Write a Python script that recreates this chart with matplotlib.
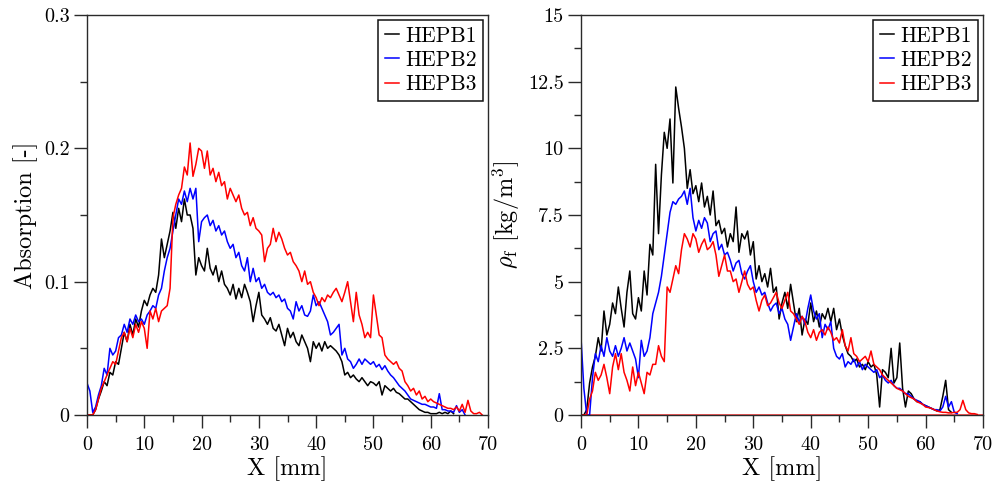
import numpy as np
import matplotlib
matplotlib.use("Agg")
import matplotlib.pyplot as plt
from matplotlib.ticker import FixedLocator, MultipleLocator

# ---- data: profiles sampled every 0.5 mm starting at X = 0 ----
step_mm = 0.5
series_names = ["HEPB1", "HEPB2", "HEPB3"]
series_colors = ["#000000", "#0000ff", "#ff0000"]

abs_hepb1 = [
    0.000, 0.000, 0.000, 0.004, 0.012, 0.018, 0.025, 0.022, 0.032, 0.030,
    0.040, 0.038, 0.050, 0.062, 0.055, 0.068, 0.060, 0.072, 0.066, 0.078,
    0.086, 0.082, 0.090, 0.095, 0.092, 0.105, 0.132, 0.118, 0.128, 0.138,
    0.152, 0.140, 0.155, 0.145, 0.162, 0.150, 0.150, 0.140, 0.105, 0.118,
    0.112, 0.108, 0.125, 0.110, 0.105, 0.112, 0.100, 0.108, 0.098, 0.095,
    0.090, 0.098, 0.087, 0.095, 0.088, 0.098, 0.092, 0.085, 0.070, 0.082,
    0.092, 0.075, 0.072, 0.068, 0.073, 0.065, 0.063, 0.068, 0.060, 0.052,
    0.065, 0.058, 0.062, 0.055, 0.052, 0.060, 0.055, 0.050, 0.040, 0.055,
    0.050, 0.054, 0.048, 0.055, 0.050, 0.052, 0.050, 0.048, 0.045, 0.040,
    0.030, 0.032, 0.028, 0.030, 0.027, 0.025, 0.028, 0.025, 0.022, 0.025,
    0.024, 0.022, 0.025, 0.015, 0.022, 0.020, 0.018, 0.020, 0.017, 0.016,
    0.014, 0.012, 0.012, 0.010, 0.008, 0.006, 0.004, 0.003, 0.002, 0.002,
    0.001, 0.001, 0.001, 0.002, 0.001, 0.002, 0.001, 0.003, 0.001,
]
abs_hepb2 = [
    0.024, 0.018, 0.002, 0.006, 0.015, 0.022, 0.035, 0.030, 0.050, 0.045,
    0.048, 0.058, 0.060, 0.068, 0.062, 0.072, 0.068, 0.075, 0.070, 0.072,
    0.068, 0.075, 0.078, 0.082, 0.080, 0.090, 0.095, 0.108, 0.118, 0.125,
    0.138, 0.150, 0.162, 0.158, 0.168, 0.160, 0.170, 0.162, 0.170, 0.130,
    0.145, 0.148, 0.150, 0.142, 0.146, 0.138, 0.142, 0.135, 0.138, 0.130,
    0.125, 0.128, 0.118, 0.122, 0.112, 0.108, 0.118, 0.100, 0.110, 0.100,
    0.103, 0.095, 0.098, 0.092, 0.090, 0.092, 0.088, 0.090, 0.085, 0.087,
    0.080, 0.078, 0.072, 0.085, 0.078, 0.082, 0.075, 0.074, 0.078, 0.090,
    0.082, 0.085, 0.080, 0.075, 0.070, 0.060, 0.062, 0.065, 0.068, 0.045,
    0.050, 0.042, 0.040, 0.035, 0.038, 0.042, 0.038, 0.042, 0.040, 0.038,
    0.040, 0.036, 0.038, 0.034, 0.037, 0.033, 0.030, 0.028, 0.025, 0.022,
    0.020, 0.018, 0.015, 0.012, 0.011, 0.010, 0.009, 0.008, 0.008, 0.007,
    0.006, 0.006, 0.005, 0.016, 0.004, 0.004, 0.003, 0.003, 0.002, 0.007,
    0.002, 0.004, 0.000,
]
abs_hepb3 = [
    0.000, 0.000, 0.000, 0.004, 0.012, 0.020, 0.025, 0.030, 0.035, 0.040,
    0.038, 0.048, 0.058, 0.062, 0.055, 0.065, 0.058, 0.068, 0.062, 0.070,
    0.065, 0.050, 0.078, 0.072, 0.080, 0.070, 0.078, 0.080, 0.082, 0.095,
    0.148, 0.158, 0.165, 0.170, 0.186, 0.180, 0.204, 0.179, 0.188, 0.200,
    0.198, 0.185, 0.198, 0.180, 0.185, 0.175, 0.182, 0.172, 0.175, 0.162,
    0.170, 0.165, 0.160, 0.165, 0.155, 0.150, 0.152, 0.142, 0.148, 0.140,
    0.138, 0.135, 0.115, 0.125, 0.128, 0.140, 0.130, 0.137, 0.132, 0.125,
    0.120, 0.122, 0.115, 0.112, 0.108, 0.100, 0.108, 0.098, 0.100, 0.092,
    0.088, 0.082, 0.088, 0.085, 0.090, 0.088, 0.092, 0.095, 0.090, 0.085,
    0.092, 0.100, 0.085, 0.070, 0.092, 0.075, 0.068, 0.058, 0.062, 0.058,
    0.090, 0.075, 0.060, 0.058, 0.045, 0.042, 0.040, 0.038, 0.040, 0.035,
    0.033, 0.025, 0.022, 0.018, 0.020, 0.015, 0.018, 0.012, 0.014, 0.010,
    0.012, 0.010, 0.009, 0.008, 0.007, 0.006, 0.005, 0.005, 0.004, 0.006,
    0.003, 0.008, 0.002, 0.011, 0.003, 0.001, 0.001, 0.002, 0.000,
]

rho_hepb1 = [
    0.0, 0.0, 0.2, 1.2, 1.8, 2.2, 2.9, 2.4, 3.9, 3.0,
    3.4, 4.2, 3.8, 4.8, 4.0, 3.3, 4.6, 5.4, 3.8, 3.6,
    4.4, 3.9, 5.4, 4.5, 6.4, 6.0, 9.4, 6.8, 9.0, 10.6,
    10.0, 11.1, 8.7, 12.3, 11.5, 10.8, 10.0, 8.5, 9.2, 8.3,
    8.6, 8.0, 8.7, 7.8, 8.2, 7.5, 8.4, 7.1, 7.3, 6.8,
    7.0, 6.3, 6.8, 6.5, 7.8, 6.1, 6.8, 6.6, 6.9, 6.0,
    6.5, 5.1, 5.6, 5.0, 5.3, 4.8, 5.5, 4.6, 4.8, 3.6,
    4.2, 4.6, 4.0, 4.9, 4.2, 3.5, 4.0, 3.0, 3.6, 3.4,
    4.2, 3.5, 3.9, 3.3, 3.8, 3.6, 4.0, 3.5, 4.0, 3.2,
    3.6, 3.0, 2.6, 2.3, 2.2, 2.0, 2.1, 1.8, 1.9, 1.7,
    2.0, 1.8, 1.9, 1.5, 0.3, 1.7, 1.6, 1.4, 2.5, 1.2,
    1.4, 2.7, 1.0, 0.3, 0.9, 0.8, 0.6, 0.5, 0.5, 0.4,
    0.35, 0.3, 0.25, 0.2, 0.15, 0.2, 0.7, 1.3, 0.2, 0.1,
]
rho_hepb2 = [
    2.9, 1.0, 0.0, 0.0, 1.4, 2.3, 2.0, 2.6, 2.2, 2.9,
    2.4, 2.2, 2.6, 2.2, 2.5, 2.9, 2.4, 2.7, 2.4, 2.1,
    1.4, 2.8, 2.2, 2.4, 2.9, 3.8, 4.2, 4.6, 5.2, 6.0,
    6.8, 7.6, 8.0, 7.9, 8.1, 8.2, 8.4, 7.9, 8.5, 7.4,
    6.9, 7.3, 7.0, 7.4, 7.2, 6.5, 6.8, 6.9, 6.2, 6.4,
    6.0, 6.1, 5.8, 5.4, 5.7, 5.8, 5.3, 5.1, 5.4, 5.6,
    5.0, 4.6, 4.8, 4.5, 4.6, 4.2, 3.9, 4.1, 4.2, 3.8,
    4.0, 3.6, 3.4, 2.8, 3.3, 3.8, 3.5, 3.7, 3.4, 4.0,
    4.5, 3.9, 3.6, 3.8, 2.9, 3.4, 3.2, 3.5, 2.5, 2.2,
    2.1, 2.3, 1.8, 2.0, 1.9, 2.1, 1.8, 2.0, 1.7, 1.9,
    1.8, 1.7, 1.6, 1.7, 1.4, 1.5, 1.3, 1.2, 1.3, 1.1,
    1.0, 1.0, 0.9, 0.8, 0.8, 0.7, 0.6, 0.55, 0.5, 0.4,
    0.35, 0.3, 0.25, 0.2, 0.2, 0.15, 0.3, 0.7, 0.3, 0.5,
    0.1, 0.05,
]
rho_hepb3 = [
    0.0, 0.0, 0.0, 0.6, 0.9, 1.6, 1.3, 1.5, 1.9, 1.4,
    0.8, 1.8, 2.3, 1.7, 2.3, 1.6, 1.3, 0.9, 1.8, 1.1,
    1.6, 1.2, 0.8, 1.6, 1.5, 1.9, 1.9, 2.6, 2.2, 2.0,
    4.8, 4.6, 5.1, 5.6, 5.3, 6.2, 6.8, 6.6, 6.3, 6.8,
    6.6, 6.1, 6.4, 6.6, 6.2, 6.3, 6.5, 6.0, 5.2, 5.6,
    6.0, 5.4, 5.4, 5.0, 5.1, 4.6, 5.0, 5.4, 4.9, 4.7,
    4.8, 4.3, 3.9, 4.3, 4.5, 4.1, 4.2, 4.4, 4.6, 4.2,
    4.0, 4.3, 4.6, 3.9, 3.8, 3.6, 3.4, 3.7, 3.5, 3.1,
    2.9, 3.2, 2.8, 3.1, 3.2, 3.0, 3.3, 3.1, 2.8, 2.9,
    2.7, 3.2, 2.6, 2.4, 2.9, 2.3, 2.2, 2.0, 2.1, 2.2,
    2.0, 2.4, 1.9, 1.8, 1.7, 1.5, 1.4, 1.3, 1.2, 1.1,
    1.0, 0.95, 0.9, 0.8, 0.7, 0.65, 0.6, 0.5, 0.45, 0.4,
    0.3, 0.28, 0.25, 0.2, 0.15, 0.12, 0.1, 0.1, 0.08, 0.08,
    0.1, 0.1, 0.2, 0.55, 0.2, 0.08, 0.05, 0.05, 0.02,
]
rho_baseline = 0.0

x_ticks = [0, 10, 20, 30, 40, 50, 60, 70]
x_ticklabels = ["0", "10", "20", "30", "40", "50", "60", "70"]
abs_ticks = [0, 0.1, 0.2, 0.3]
abs_ticklabels = ["0", "0.1", "0.2", "0.3"]
rho_ticks = [0, 2.5, 5, 7.5, 10, 12.5, 15]
rho_ticklabels = ["0", "2.5", "5", "7.5", "10", "12.5", "15"]

# ---- style ----
plt.rcParams["font.family"] = ["cmr10", "DejaVu Serif"]
plt.rcParams["mathtext.fontset"] = "cm"
plt.rcParams["axes.formatter.use_mathtext"] = True
FS_TICK = 14.5
FS_LABEL = 17.5
FS_LEG = 15.5
SPINE = "#2a2a2a"

fig = plt.figure(figsize=(9.96, 4.88), dpi=100)
ax_abs = fig.add_axes([87 / 996, 1 - 415 / 488, 401 / 996, 400 / 488])
ax_rho = fig.add_axes([581 / 996, 1 - 415 / 488, 402 / 996, 400 / 488])


def style_axes(ax, yticks, ylabels, ymax, yminor):
    ax.set_xlim(0, 70)
    ax.set_ylim(0, ymax)
    ax.xaxis.set_major_locator(FixedLocator(x_ticks))
    ax.set_xticklabels(x_ticklabels)
    ax.xaxis.set_minor_locator(MultipleLocator(5))
    ax.yaxis.set_major_locator(FixedLocator(yticks))
    ax.set_yticklabels(ylabels)
    ax.yaxis.set_minor_locator(MultipleLocator(yminor))
    ax.tick_params(which="both", direction="out", top=False, right=False,
                   color=SPINE, width=1.0, labelsize=FS_TICK)
    ax.tick_params(which="major", length=9.5, pad=3)
    ax.tick_params(which="minor", length=5)
    ax.tick_params(axis="x", which="major", pad=6)
    for s in ax.spines.values():
        s.set_color(SPINE)
        s.set_linewidth(1.0)
    ax.set_xlabel("X [mm]", fontsize=FS_LABEL, labelpad=1)


def draw_series(ax, values_list):
    for name, color, vals in zip(series_names, series_colors, values_list):
        x = np.arange(len(vals)) * step_mm
        ax.plot(x, vals, color=color, lw=1.1, label=name)
    leg = ax.legend(loc="upper right", fontsize=FS_LEG, frameon=True, fancybox=False,
                    framealpha=1, edgecolor="#111111", handlelength=0.65,
                    handletextpad=0.3, labelspacing=0.22, borderpad=0.3,
                    borderaxespad=0.22)
    leg.get_frame().set_linewidth(1.1)


draw_series(ax_abs, [abs_hepb1, abs_hepb2, abs_hepb3])
style_axes(ax_abs, abs_ticks, abs_ticklabels, 0.3, 0.05)
ax_abs.set_ylabel("Absorption [-]", fontsize=FS_LABEL, labelpad=4)

ax_rho.axhline(rho_baseline, color="#ff0000", lw=1.2, alpha=0.75, zorder=1)
draw_series(ax_rho, [rho_hepb1, rho_hepb2, rho_hepb3])
style_axes(ax_rho, rho_ticks, rho_ticklabels, 15, 1.25)
ax_rho.set_ylabel(r"$\rho_{\rm f}$ [kg/m$^3$]", fontsize=FS_LABEL, labelpad=4)

fig.savefig("out.png", dpi=100)
